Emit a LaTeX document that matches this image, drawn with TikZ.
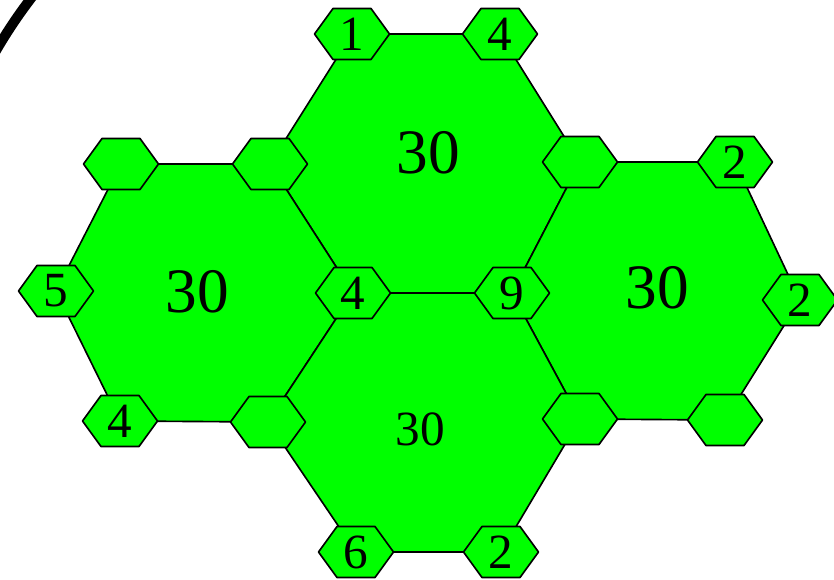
\documentclass[tikz,border=0pt]{standalone}
\usepackage{fontspec}
\setmainfont{Liberation Serif}
\newfontfamily\numfont{Liberation Serif}
\definecolor{cellgreen}{RGB}{0,255,0}
\begin{document}
\begin{tikzpicture}[x=0.03cm, y=-0.03cm]
  \tikzstyle{cell}=[fill=cellgreen, draw=black, line width=1.4pt, line join=round]
  \tikzstyle{bignum}=[font=\numfont\fontsize{54}{54}\selectfont, inner sep=0pt]
  \tikzstyle{smallnum}=[font=\numfont\fontsize{42}{42}\selectfont, inner sep=0pt]
  \useasboundingbox (0,0) rectangle (834,579);

  \begin{scope}
    \clip (0,0) rectangle (150,150);
    \draw[line width=0.3cm] (426,300) circle[radius=497];
  \end{scope}

  \coordinate (a1) at (352,34);
  \coordinate (a2) at (500,34);
  \coordinate (b1) at (121,164);
  \coordinate (b2) at (270,164);
  \coordinate (b3) at (580,162);
  \coordinate (b4) at (735,162);
  \coordinate (c1) at (56,291);
  \coordinate (c2) at (353,293);
  \coordinate (c3) at (512,293);
  \coordinate (c4) at (800,300);
  \coordinate (d1) at (120,421);
  \coordinate (d2) at (268,422);
  \coordinate (d3) at (580,419);
  \coordinate (d4) at (725,420);
  \coordinate (e1) at (356,552);
  \coordinate (e2) at (501,552);

  \draw[cell] (a1) -- (a2) -- (b3) -- (c3) -- (c2) -- (b2) -- cycle;
  \draw[cell] (b1) -- (b2) -- (c2) -- (d2) -- (d1) -- (c1) -- cycle;
  \draw[cell] (b3) -- (b4) -- (c4) -- (d4) -- (d3) -- (c3) -- cycle;
  \draw[cell] (c2) -- (c3) -- (d3) -- (e2) -- (e1) -- (d2) -- cycle;

  \node[bignum] (top) at (428,153) {30};
  \node[bignum] (left) at (197,292) {30};
  \node[bignum] (right) at (657,288) {30};
  \node[smallnum] (bottom) at (420,429) {30};

  \foreach \v/\t in {a1/1, a2/4, b1/, b2/, b3/, b4/2, c1/5, c2/4, c3/9, c4/2,
                     d1/4, d2/, d3/, d4/, e1/6, e2/2} {
    \draw[cell] (\v) +(-37.5,0) -- +(-19,-25.5) -- +(19,-25.5) -- +(37.5,0)
      -- +(19,25.5) -- +(-19,25.5) -- cycle;
    \node[smallnum] (n\v) at (\v) {\t};
  }
\end{tikzpicture}
\end{document}
